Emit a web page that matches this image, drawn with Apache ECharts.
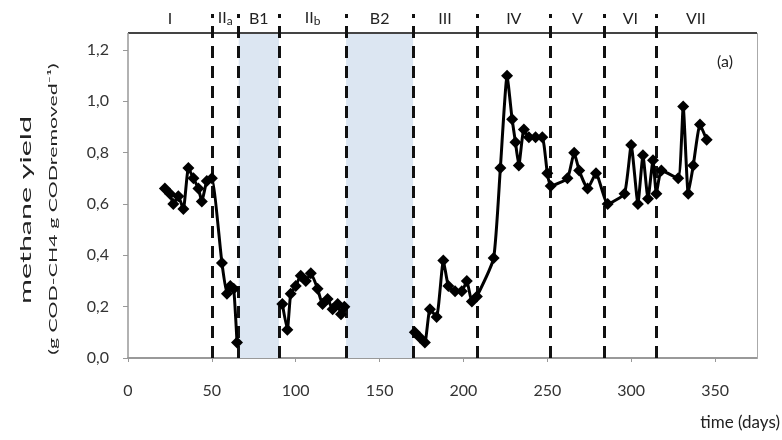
<!DOCTYPE html>
<html><head><meta charset="utf-8">
<script src="https://cdn.jsdelivr.net/npm/echarts@6/dist/echarts.min.js"></script>
<style>html,body{margin:0;padding:0;background:#fff}#c{width:782px;height:440px}</style>
</head><body><div id="c"></div>
<script>
// time (days) and methane yield; null marks a break in the line (batch periods)
const days = [22,25,27,30,33,36,39,42,44,47,50,
  56,59,61,63,65,
  78,
  92,95,97,100,103,106,109,113,116,119,122,125,127,129,
  150,
  171,174,177,180,184,188,191,195,199,202,205,208,
  218,222,226,229,231,233,236,239,243,247,250,252,
  262,266,269,274,279,286,
  296,300,304,307,310,313,315,
  318,328,331,334,337,341,345];
const methaneYield = [0.66,0.64,0.60,0.63,0.58,0.74,0.70,0.66,0.61,0.69,0.70,
  0.37,0.25,0.28,0.27,0.06,
  null,
  0.21,0.11,0.25,0.28,0.32,0.30,0.33,0.27,0.21,0.23,0.19,0.21,0.17,0.20,
  null,
  0.10,0.08,0.06,0.19,0.16,0.38,0.28,0.26,0.26,0.30,0.22,0.24,
  0.39,0.74,1.10,0.93,0.84,0.75,0.89,0.86,0.86,0.86,0.72,0.67,
  0.70,0.80,0.73,0.66,0.72,0.60,
  0.64,0.83,0.60,0.79,0.62,0.77,0.64,
  0.73,0.70,0.98,0.64,0.75,0.91,0.85];
const phaseNames = ['I','IIa','B1','IIb','B2','III','IV','V','VI','VII'];
const phaseStart = [0,50,66,90,130,170,208,252,284,315];
const phaseEnd   = [50,66,90,130,170,208,252,284,315,362];
const shadedPhases = ['B1','B2'];
const boundaries = [50,66,90,130,170,208,252,284,315];
const xTicks = [0,50,100,150,200,250,300,350];
const yTicks = [0,0.2,0.4,0.6,0.8,1.0,1.2];
const X_MAX = 375, Y_TOP = 1.266, Y_MAX = 1.34;

const FONT = 'Lato, "Open Sans", sans-serif';
const chart = echarts.init(document.getElementById('c'), null, {renderer:'canvas'});

const lineData = days.map((d,i) => [d, methaneYield[i] === null ? '-' : methaneYield[i]]);

const labelName = n => n.replace(/^II([ab])$/, 'II{s|$1}');
const areaData = phaseNames.map((n,i) => [
  {name: labelName(n), xAxis: phaseStart[i], yAxis: 0,
   itemStyle: {color: shadedPhases.includes(n) ? '#dce6f2' : 'rgba(0,0,0,0)'}},
  {xAxis: phaseEnd[i], yAxis: Y_TOP}
]);

const dashLines = boundaries.map(b => [
  {coord: [b, 0], lineStyle: {color: '#111', width: 3, type: [12, 8]}},
  {coord: [b, Y_MAX]}
]);
const borderLines = [
  [{coord: [0, Y_TOP], lineStyle: {color: '#444', width: 2, type: 'solid'}}, {coord: [X_MAX, Y_TOP]}],
  [{coord: [X_MAX, 0], lineStyle: {color: '#aaa', width: 1, type: 'solid'}}, {coord: [X_MAX, Y_TOP]}],
  [{coord: [0, 0], lineStyle: {color: '#999', width: 1.5, type: 'solid'}}, {coord: [0, Y_TOP]}]
];

chart.setOption({
  animation: false,
  backgroundColor: '#fff',
  textStyle: {fontFamily: FONT},
  grid: {left: 128, right: 25, top: 358 - Y_MAX * 256.7, bottom: 82, containLabel: false},
  xAxis: {
    type: 'value', min: 0, max: X_MAX,
    splitLine: {show: false},
    axisLine: {show: true, lineStyle: {color: '#999', width: 2}},
    axisTick: {show: true, inside: false, length: 4, lineStyle: {color: '#999'}, customValues: xTicks},
    axisLabel: {customValues: xTicks, margin: 25, fontSize: 16, color: '#333', fontFamily: FONT}
  },
  yAxis: {
    type: 'value', min: 0, max: Y_MAX,
    splitLine: {show: false},
    axisLine: {show: false},
    axisTick: {show: true, length: 5, lineStyle: {color: '#999'}, customValues: yTicks},
    axisLabel: {customValues: yTicks, margin: 19, fontSize: 16, color: '#333', fontFamily: FONT,
      formatter: v => v.toFixed(1).replace('.', ',')}
  },
  series: [
    {
      type: 'line', data: [], silent: true,
      markArea: {
        silent: true,
        label: {show: true, position: 'top', distance: 6, fontSize: 16, color: '#222', fontFamily: FONT,
          formatter: p => p.name,
          rich: {s: {fontSize: 12, color: '#222', padding: [6, 0, 0, 0], fontFamily: FONT}}},
        data: areaData
      },
      markLine: {
        silent: true, symbol: ['none','none'], label: {show: false},
        data: borderLines.concat(dashLines)
      }
    },
    {
      type: 'line', data: lineData, smooth: 0.15, connectNulls: false,
      symbol: 'diamond', symbolSize: 12,
      lineStyle: {color: '#000', width: 3},
      itemStyle: {color: '#000'}, z: 5
    }
  ],
  graphic: [
    {type: 'text', x: 26, y: 210, rotation: Math.PI/2, scaleX: 1.9,
     style: {text: 'methane yield', font: '16px ' + FONT, fill: '#222', textAlign: 'center', textVerticalAlign: 'middle'}},
    {type: 'text', x: 53, y: 209, rotation: Math.PI/2, scaleX: 1.78,
     style: {text: '(g COD-CH4 g CODremoved⁻¹)', font: '12px ' + FONT, fill: '#222', textAlign: 'center', textVerticalAlign: 'middle'}},
    {type: 'text', x: 780, y: 423,
     style: {text: 'time (days)', font: '17px ' + FONT, fill: '#222', textAlign: 'right', textVerticalAlign: 'middle'}},
    {type: 'text', x: 725, y: 62,
     style: {text: '(a)', font: '16px ' + FONT, fill: '#222', textAlign: 'center', textVerticalAlign: 'middle'}}
  ]
});
</script></body></html>
